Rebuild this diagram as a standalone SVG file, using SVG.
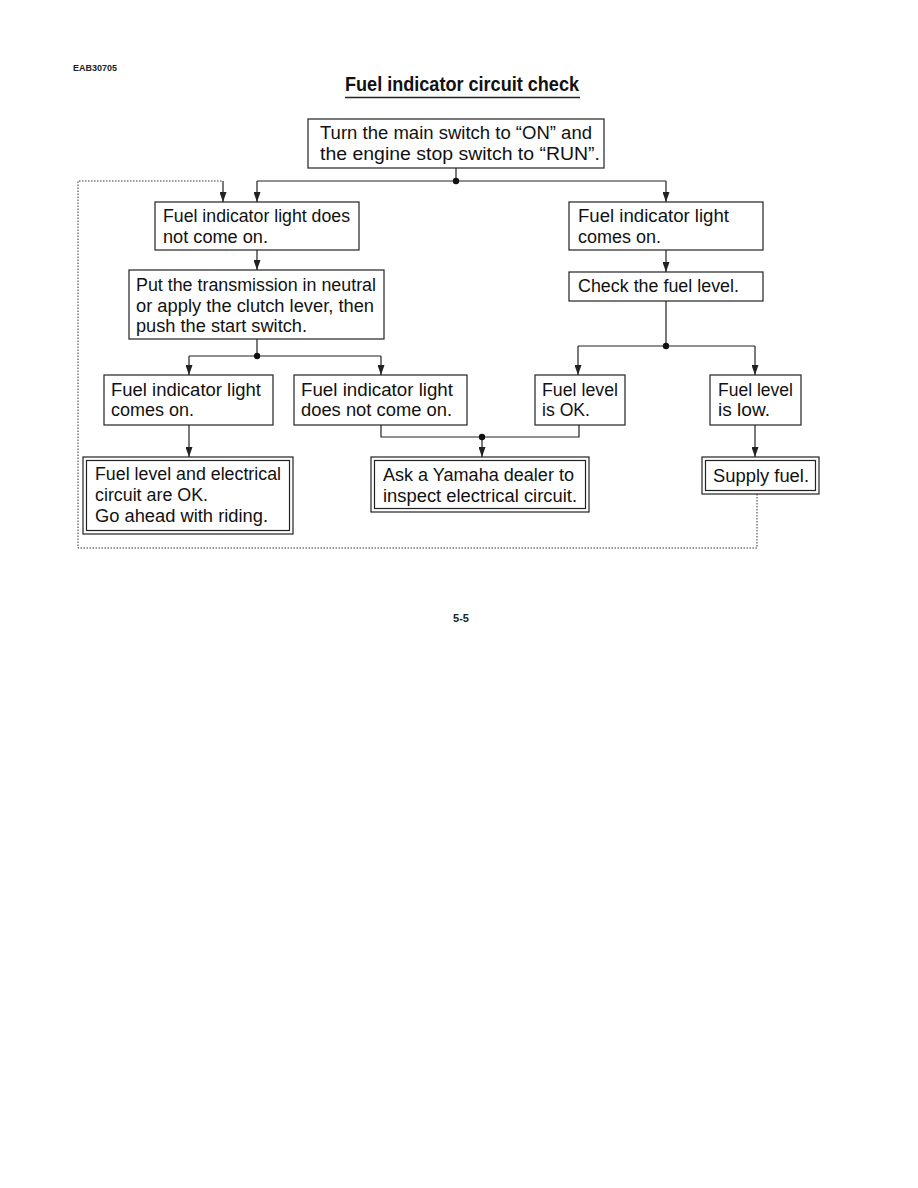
<svg xmlns="http://www.w3.org/2000/svg" width="918" height="1188" viewBox="0 0 918 1188">
<style>
.t{font-family:"Liberation Sans",Arial,sans-serif;font-size:17.5px;fill:#111}
.box{fill:#fff;stroke:#222;stroke-width:1.2}
.dbl{fill:none;stroke:#222;stroke-width:1.2}
.ln{fill:none;stroke:#222;stroke-width:1.2}
.dot{fill:none;stroke:#333;stroke-width:1;stroke-dasharray:1.5 1.5}
</style>
<defs>
<marker id="ah" markerWidth="10" markerHeight="7" refX="10" refY="3.5" orient="auto" markerUnits="userSpaceOnUse" viewBox="0 0 10 7">
<path d="M0,0 L10,3.5 L0,7 Z" fill="#222"/>
</marker>
</defs>
<rect width="918" height="1188" fill="#fff"/>
<text x="73" y="71" style="font-family:'Liberation Sans',Arial,sans-serif;font-size:9px;font-weight:bold;fill:#222">EAB30705</text>
<text x="462" y="91" text-anchor="middle" textLength="234" lengthAdjust="spacingAndGlyphs" style="font-family:'Liberation Sans',Arial,sans-serif;font-size:20.5px;font-weight:bold;fill:#111">Fuel indicator circuit check</text>
<line x1="345" y1="97.5" x2="580" y2="97.5" stroke="#222" stroke-width="1.5"/>
<text x="461" y="622" text-anchor="middle" style="font-family:'Liberation Sans',Arial,sans-serif;font-size:11px;font-weight:bold;fill:#222">5-5</text>

<g id="connectors">
<path class="ln" d="M456,168 V181"/>
<path class="ln" d="M257,181 H666"/>
<path class="ln" d="M257,181 V202" marker-end="url(#ah)"/>
<path class="ln" d="M666,181 V202" marker-end="url(#ah)"/>
<circle cx="456" cy="181" r="3.2" fill="#111"/>
<path class="ln" d="M257,250 V270" marker-end="url(#ah)"/>
<path class="ln" d="M257,339 V356 M189,356 H381"/>
<path class="ln" d="M189,356 V375" marker-end="url(#ah)"/>
<path class="ln" d="M381,356 V375" marker-end="url(#ah)"/>
<circle cx="257" cy="356" r="3.2" fill="#111"/>
<path class="ln" d="M189,425 V457" marker-end="url(#ah)"/>
<path class="ln" d="M381,425 V437 H579 V425"/>
<path class="ln" d="M482,437 V457" marker-end="url(#ah)"/>
<circle cx="482" cy="437" r="3.2" fill="#111"/>
<path class="ln" d="M666,250 V272" marker-end="url(#ah)"/>
<path class="ln" d="M666,301 V346 M578,346 H755"/>
<path class="ln" d="M578,346 V375" marker-end="url(#ah)"/>
<path class="ln" d="M755,346 V375" marker-end="url(#ah)"/>
<circle cx="666" cy="346" r="3.2" fill="#111"/>
<path class="ln" d="M755,425 V457" marker-end="url(#ah)"/>
<path class="dot" d="M757,494 V548 H78 V181 H223"/>
<path class="ln" d="M223,181 V202" marker-end="url(#ah)"/>
</g>

<g id="start">
<rect class="box" x="308" y="119" width="296" height="49"/>
<text class="t" x="320" y="139" textLength="272" lengthAdjust="spacingAndGlyphs">Turn the main switch to “ON” and</text>
<text class="t" x="320" y="160" textLength="280" lengthAdjust="spacingAndGlyphs">the engine stop switch to “RUN”.</text>
</g>
<g id="notOn1">
<rect class="box" x="155" y="202" width="204" height="48"/>
<text class="t" x="163" y="222" textLength="187" lengthAdjust="spacingAndGlyphs">Fuel indicator light does</text>
<text class="t" x="163" y="243" textLength="105" lengthAdjust="spacingAndGlyphs">not come on.</text>
</g>
<g id="neutral">
<rect class="box" x="129" y="270" width="255" height="69"/>
<text class="t" x="136" y="291" textLength="240" lengthAdjust="spacingAndGlyphs">Put the transmission in neutral</text>
<text class="t" x="136" y="312" textLength="238" lengthAdjust="spacingAndGlyphs">or apply the clutch lever, then</text>
<text class="t" x="136" y="332" textLength="171" lengthAdjust="spacingAndGlyphs">push the start switch.</text>
</g>
<g id="comesOn2">
<rect class="box" x="104" y="375" width="169" height="50"/>
<text class="t" x="111" y="396" textLength="150" lengthAdjust="spacingAndGlyphs">Fuel indicator light</text>
<text class="t" x="111" y="416" textLength="83" lengthAdjust="spacingAndGlyphs">comes on.</text>
</g>
<g id="notOn2">
<rect class="box" x="294" y="375" width="173" height="50"/>
<text class="t" x="301" y="396" textLength="152" lengthAdjust="spacingAndGlyphs">Fuel indicator light</text>
<text class="t" x="301" y="416" textLength="151" lengthAdjust="spacingAndGlyphs">does not come on.</text>
</g>
<g id="ok">
<rect class="box" x="83" y="457" width="210" height="77"/>
<rect class="dbl" x="86.5" y="460.5" width="203" height="70"/>
<text class="t" x="95" y="480" textLength="186" lengthAdjust="spacingAndGlyphs">Fuel level and electrical</text>
<text class="t" x="95" y="501" textLength="113" lengthAdjust="spacingAndGlyphs">circuit are OK.</text>
<text class="t" x="95" y="522" textLength="173" lengthAdjust="spacingAndGlyphs">Go ahead with riding.</text>
</g>
<g id="dealer">
<rect class="box" x="371" y="457" width="218" height="55"/>
<rect class="dbl" x="374.5" y="460.5" width="211" height="48"/>
<text class="t" x="383" y="481" textLength="191" lengthAdjust="spacingAndGlyphs">Ask a Yamaha dealer to</text>
<text class="t" x="383" y="502" textLength="194" lengthAdjust="spacingAndGlyphs">inspect electrical circuit.</text>
</g>
<g id="comesOn1">
<rect class="box" x="569" y="202" width="194" height="48"/>
<text class="t" x="578" y="222" textLength="151" lengthAdjust="spacingAndGlyphs">Fuel indicator light</text>
<text class="t" x="578" y="243" textLength="83" lengthAdjust="spacingAndGlyphs">comes on.</text>
</g>
<g id="checkLevel">
<rect class="box" x="569" y="272" width="194" height="29"/>
<text class="t" x="578" y="292" textLength="161" lengthAdjust="spacingAndGlyphs">Check the fuel level.</text>
</g>
<g id="levelOk">
<rect class="box" x="535" y="375" width="90" height="50"/>
<text class="t" x="542" y="396" textLength="76" lengthAdjust="spacingAndGlyphs">Fuel level</text>
<text class="t" x="542" y="416" textLength="48" lengthAdjust="spacingAndGlyphs">is OK.</text>
</g>
<g id="levelLow">
<rect class="box" x="710" y="375" width="91" height="50"/>
<text class="t" x="718" y="396" textLength="75" lengthAdjust="spacingAndGlyphs">Fuel level</text>
<text class="t" x="718" y="416" textLength="52" lengthAdjust="spacingAndGlyphs">is low.</text>
</g>
<g id="supply">
<rect class="box" x="702" y="457" width="117" height="37"/>
<rect class="dbl" x="705.5" y="460.5" width="110" height="30"/>
<text class="t" x="713" y="482" textLength="96" lengthAdjust="spacingAndGlyphs">Supply fuel.</text>
</g>
</svg>
